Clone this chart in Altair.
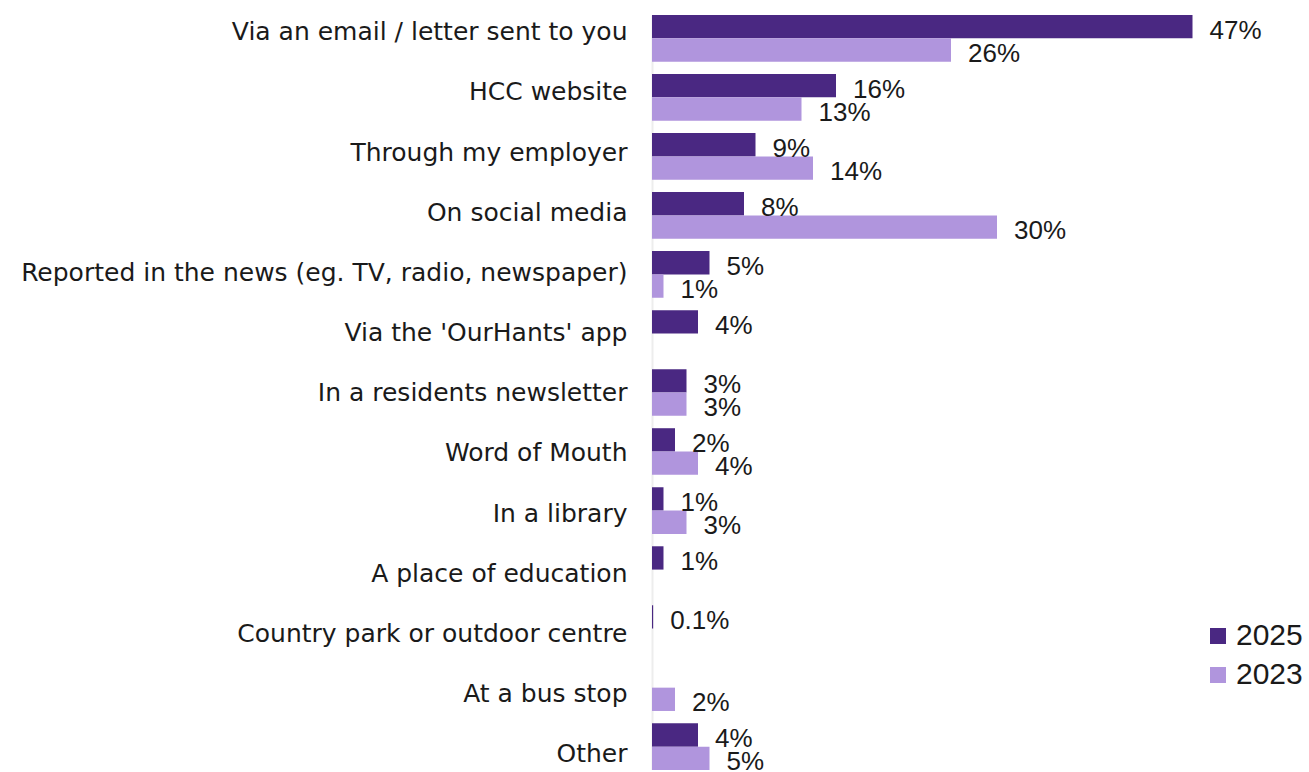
import altair as alt
import pandas as pd

categories = [
    "Via an email / letter sent to you",
    "HCC website",
    "Through my employer",
    "On social media",
    "Reported in the news (eg. TV, radio, newspaper)",
    "Via the 'OurHants' app",
    "In a residents newsletter",
    "Word of Mouth",
    "In a library",
    "A place of education",
    "Country park or outdoor centre",
    "At a bus stop",
    "Other",
]
series = ["2025", "2023"]
values_2025 = [47, 16, 9, 8, 5, 4, 3, 2, 1, 1, 0.1, None, 4]
values_2023 = [26, 13, 14, 30, 1, None, 3, 4, 3, None, None, 2, 5]
colors = ["#4A2882", "#B095DD"]

rows = []
for cat, a, b in zip(categories, values_2025, values_2023):
    if a is not None:
        rows.append({"category": cat, "year": "2025", "value": a})
    if b is not None:
        rows.append({"category": cat, "year": "2023", "value": b})
df = pd.DataFrame(rows)

H = 755
W = 575

y_enc = alt.Y(
    "category:N",
    sort=categories,
    scale=alt.Scale(paddingInner=0.21, paddingOuter=0),
    axis=alt.Axis(
        title=None,
        ticks=False,
        labelPadding=25,
        labelFont="DejaVu Sans",
        labelFontSize=25,
        labelColor="#1a1a1a",
        labelLimit=700,
        labelOffset=alt.ExprRef("-6 + 13.5 * datum.index"),
        domainColor="#EDEDED",
        domainWidth=2,
    ),
)
yoff = alt.YOffset(
    "year:N",
    sort=series,
    scale=alt.Scale(domain=series, paddingInner=0, paddingOuter=0),
)
x_enc = alt.X(
    "value:Q",
    scale=alt.Scale(domain=[0, 50], nice=False),
    axis=None,
)

bars = alt.Chart(df).mark_bar().encode(
    x=x_enc,
    y=y_enc,
    yOffset=yoff,
    color=alt.Color(
        "year:N",
        sort=series,
        scale=alt.Scale(domain=series, range=colors),
        legend=alt.Legend(
            title=None,
            orient="none",
            legendX=551,
            legendY=606,
            symbolType="square",
            symbolSize=256,
            symbolStrokeWidth=0,
            labelFont="Liberation Sans",
            labelFontSize=30,
            labelColor="#1a1a1a",
            labelOffset=3,
            rowPadding=9,
            padding=0,
        ),
    ),
)

labels = alt.Chart(df).transform_calculate(
    label="datum.value < 1 ? format(datum.value, '.1f') + '%' : format(datum.value, '.0f') + '%'"
).mark_text(
    align="left",
    baseline="middle",
    dx=17,
    dy=4,
    font="Liberation Sans",
    fontSize=26,
    color="#1a1a1a",
).encode(
    x=x_enc,
    y=alt.Y("category:N", sort=categories),
    yOffset=yoff,
    text="label:N",
)

chart = (
    alt.layer(bars, labels)
    .properties(
        width=W,
        height=H,
        autosize=alt.AutoSizeParams(type="none"),
        padding={"left": 652, "top": 15, "right": 82, "bottom": 0},
    )
    .configure_view(stroke=None)
)

chart.save("out.html", embed_options={"renderer": "svg", "actions": False})
